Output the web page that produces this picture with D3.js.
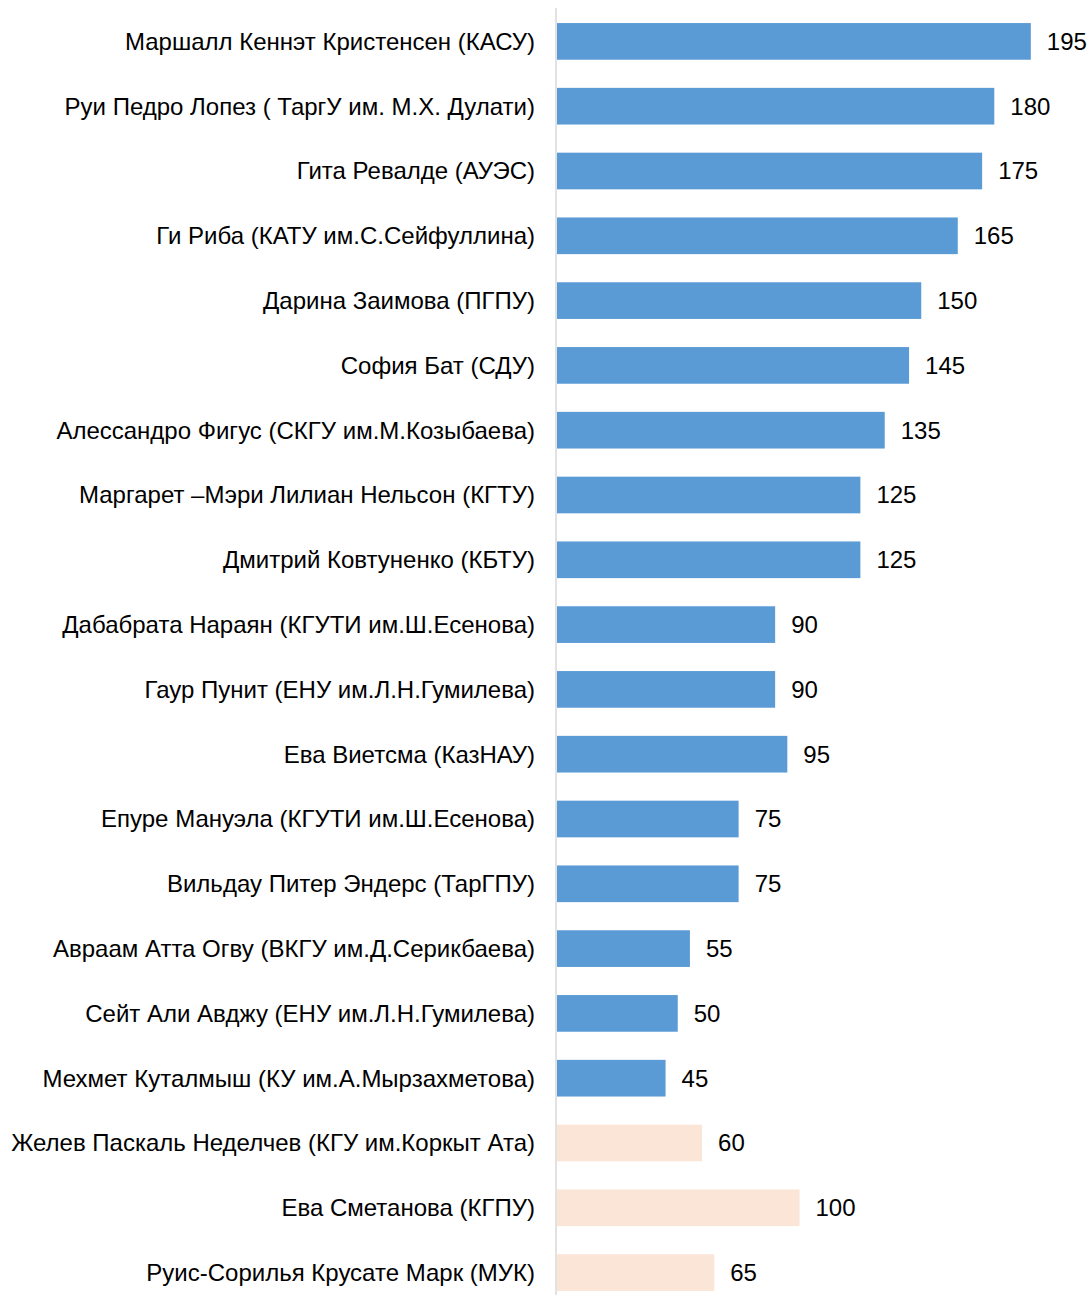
<!DOCTYPE html>
<html>
<head>
<meta charset="utf-8">
<script src="https://cdn.jsdelivr.net/npm/d3@7"></script>
<style>
  body { margin: 0; background: #fff; }
  text { font-family: "Liberation Sans", Arial, sans-serif; fill: #000; }
</style>
</head>
<body>
<div id="chart"></div>
<script>
const names = [
    "Маршалл Кеннэт Кристенсен (КАСУ)",
    "Руи Педро Лопез ( ТаргУ им. М.Х. Дулати)",
    "Гита Ревалде (АУЭС)",
    "Ги Риба (КАТУ им.С.Сейфуллина)",
    "Дарина Заимова (ПГПУ)",
    "София Бат (СДУ)",
    "Алессандро Фигус (СКГУ им.М.Козыбаева)",
    "Маргарет –Мэри Лилиан Нельсон (КГТУ)",
    "Дмитрий Ковтуненко (КБТУ)",
    "Дабабрата Нараян (КГУТИ им.Ш.Есенова)",
    "Гаур Пунит (ЕНУ им.Л.Н.Гумилева)",
    "Ева Виетсма (КазНАУ)",
    "Епуре Мануэла (КГУТИ им.Ш.Есенова)",
    "Вильдау Питер Эндерс (ТарГПУ)",
    "Авраам Атта Огву (ВКГУ им.Д.Серикбаева)",
    "Сейт Али Авджу (ЕНУ им.Л.Н.Гумилева)",
    "Мехмет Куталмыш (КУ им.А.Мырзахметова)",
    "Желев Паскаль Неделчев (КГУ им.Коркыт Ата)",
    "Ева Сметанова (КГПУ)",
    "Руис-Сорилья Крусате Марк (МУК)"
];
const values = [195, 180, 175, 165, 150, 145, 135, 125, 125, 90, 90, 95, 75, 75, 55, 50, 45, 60, 100, 65];
// first 17 are one group, last 3 the other
const groups = names.map((n, i) => i < 17 ? "main" : "other");
const colors = { main: "#5B9BD5", other: "#FBE5D6" };

const width = 1090;
const height = 1295;
const x0 = 556;

const data = names.map((n, i) => ({ name: n, value: values[i], group: groups[i] }));

const svg = d3.select("#chart")
    .append("svg")
    .attr("width", width)
    .attr("height", height);

const x = d3.scaleLinear()
    .domain([0, 100])
    .range([x0, x0 + 243.5]);

const y = d3.scaleBand()
    .domain(names)
    .range([9, 1305])
    .paddingInner(0.434)
    .paddingOuter(0.217);

svg.selectAll(".bar")
    .data(data)
    .enter()
    .append("rect")
    .attr("class", "bar")
    .attr("x", x(0) + 1)
    .attr("y", d => y(d.name))
    .attr("width", d => x(d.value) - x(0) - 1)
    .attr("height", y.bandwidth())
    .style("fill", d => colors[d.group]);

svg.append("line")
    .attr("x1", x0)
    .attr("x2", x0)
    .attr("y1", 8)
    .attr("y2", height)
    .style("stroke", "#D9D9D9")
    .style("stroke-width", 1.5);

svg.selectAll(".name")
    .data(data)
    .enter()
    .append("text")
    .attr("class", "name")
    .attr("x", x0 - 21)
    .attr("y", d => y(d.name) + y.bandwidth() / 2)
    .attr("dy", "0.35em")
    .attr("text-anchor", "end")
    .style("font-size", "24px")
    .text(d => d.name);

svg.selectAll(".val")
    .data(data)
    .enter()
    .append("text")
    .attr("class", "val")
    .attr("x", d => x(d.value) + 16)
    .attr("y", d => y(d.name) + y.bandwidth() / 2)
    .attr("dy", "0.35em")
    .style("font-size", "24px")
    .text(d => d.value);
</script>
</body>
</html>
